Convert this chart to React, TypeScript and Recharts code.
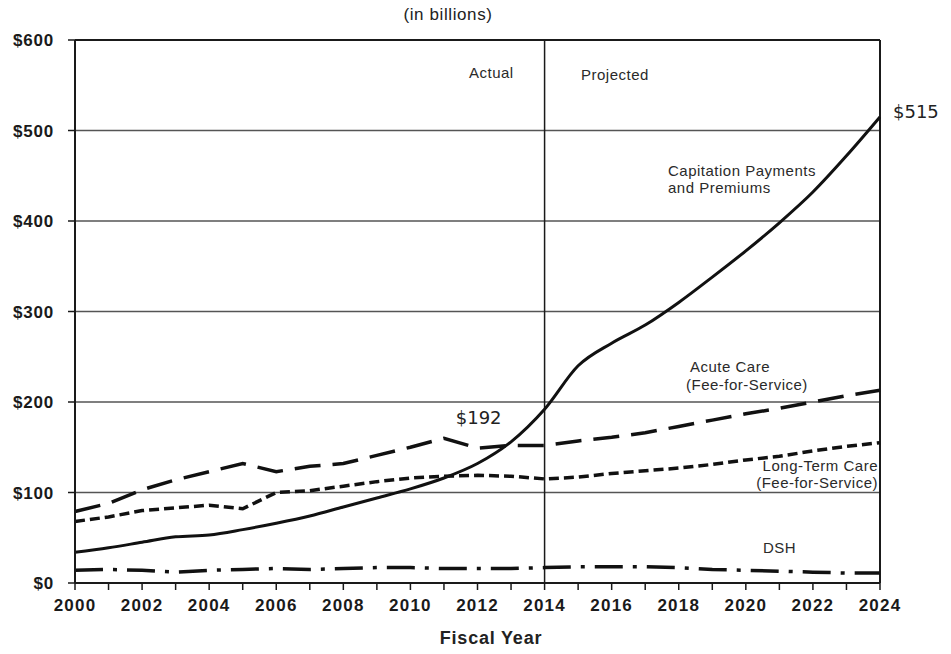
import React from 'react';
import {
  LineChart,
  Line,
  XAxis,
  YAxis,
  CartesianGrid,
  ReferenceLine,
  ReferenceDot,
} from 'recharts';

const years = [
  2000, 2001, 2002, 2003, 2004, 2005, 2006, 2007, 2008, 2009, 2010, 2011, 2012,
  2013, 2014, 2015, 2016, 2017, 2018, 2019, 2020, 2021, 2022, 2023, 2024,
];
const capitation = [
  34, 39, 45, 51, 53, 59, 66, 74, 84, 94, 104, 116, 132, 156, 192, 240, 265,
  285, 310, 338, 367, 398, 432, 472, 515,
];
const acuteCare = [
  79, 88, 103, 114, 123, 132, 123, 129, 132, 141, 150, 160, 149, 152, 152, 157,
  161, 166, 173, 180, 187, 193, 200, 207, 213,
];
const longTermCare = [
  68, 73, 80, 83, 86, 82, 100, 102, 107, 112, 116, 118, 119, 118, 115, 117, 121,
  124, 127, 131, 136, 140, 146, 151, 155,
];
const dsh = [
  14, 15, 14, 12, 14, 15, 16, 15, 16, 17, 17, 16, 16, 16, 17, 18, 18, 18, 17,
  15, 14, 13, 12, 11, 11,
];
const yTicks = [0, 100, 200, 300, 400, 500, 600];
const splitYear = 2014;

const data = years.map((year, i) => ({
  year,
  capitation: capitation[i],
  acuteCare: acuteCare[i],
  longTermCare: longTermCare[i],
  dsh: dsh[i],
}));

const FONT = '"Liberation Sans", Arial, sans-serif';
const INK = '#1a1a1a';

const note = (extra: React.CSSProperties): React.CSSProperties => ({
  position: 'absolute',
  fontFamily: FONT,
  fontSize: 15,
  letterSpacing: 0.5,
  color: '#2a2a2a',
  whiteSpace: 'nowrap',
  lineHeight: '17px',
  ...extra,
});

const valueLabel =
  (dx: number, dy: number, anchor: 'start' | 'end', text: string) =>
  (props: any) => {
    const vb = props.viewBox || {};
    const cx = (vb.x ?? 0) + (vb.width ?? 0) / 2;
    const cy = (vb.y ?? 0) + (vb.height ?? 0) / 2;
    return (
      <text
        x={cx + dx}
        y={cy + dy}
        textAnchor={anchor}
        fontFamily='"DejaVu Sans", sans-serif'
        fontSize={18}
        fill="#222"
      >
        {text}
      </text>
    );
  };

export default function App() {
  return (
    <div style={{ position: 'absolute', left: 0, top: 0, width: 951, height: 654, background: '#fff' }}>
      <LineChart
        width={951}
        height={654}
        data={data}
        margin={{ top: 40, right: 71, bottom: 41, left: 15 }}
      >
        <CartesianGrid horizontal vertical={false} stroke="#555" strokeWidth={1.5} />
        <XAxis
          dataKey="year"
          type="number"
          domain={[2000, 2024]}
          ticks={years}
          interval={0}
          height={30}
          tickSize={7}
          tickMargin={9}
          tickFormatter={(v: number) => (v % 2 === 0 ? String(v) : '')}
          axisLine={{ stroke: INK, strokeWidth: 2 }}
          tickLine={{ stroke: INK, strokeWidth: 1.5 }}
          tick={{ fill: INK, fontFamily: FONT, fontSize: 17, fontWeight: 700, letterSpacing: 1.2 }}
        />
        <YAxis
          domain={[0, 600]}
          ticks={yTicks}
          width={60}
          tickSize={7}
          tickMargin={14}
          tickFormatter={(v: number) => `$${v}`}
          axisLine={{ stroke: INK, strokeWidth: 2 }}
          tickLine={{ stroke: INK, strokeWidth: 1.5 }}
          tick={{ fill: INK, fontFamily: FONT, fontSize: 17, fontWeight: 700, letterSpacing: 0.8 }}
        />
        <ReferenceLine y={600} stroke={INK} strokeWidth={2} />
        <ReferenceLine x={2024} stroke={INK} strokeWidth={2} />
        <ReferenceLine x={splitYear} stroke={INK} strokeWidth={1.5} />

        <Line
          dataKey="dsh"
          type="linear"
          stroke="#111"
          strokeWidth={3.5}
          strokeDasharray="28 10 4 10"
          dot={false}
          isAnimationActive={false}
        />
        <Line
          dataKey="longTermCare"
          type="linear"
          stroke="#111"
          strokeWidth={3.5}
          strokeDasharray="10 5"
          dot={false}
          isAnimationActive={false}
        />
        <Line
          dataKey="acuteCare"
          type="linear"
          stroke="#111"
          strokeWidth={3.5}
          strokeDasharray="26 12"
          dot={false}
          isAnimationActive={false}
        />
        <Line
          dataKey="capitation"
          type="monotone"
          stroke="#111"
          strokeWidth={3}
          dot={false}
          isAnimationActive={false}
        />

        <ReferenceDot
          x={2024}
          y={capitation[capitation.length - 1]}
          r={0}
          stroke="none"
          label={valueLabel(13, 1, 'start', `$${capitation[capitation.length - 1]}`)}
        />
        <ReferenceDot
          x={splitYear}
          y={capitation[years.indexOf(splitYear)]}
          r={0}
          stroke="none"
          label={valueLabel(-43, 15, 'end', `$${capitation[years.indexOf(splitYear)]}`)}
        />
      </LineChart>

      <div style={note({ left: 0, width: 896, top: 6, textAlign: 'center', fontSize: 17, letterSpacing: 0.6, color: '#222' })}>
        (in billions)
      </div>
      <div style={note({ left: 0, width: 982, top: 630, textAlign: 'center', fontSize: 18, fontWeight: 700, color: '#222', letterSpacing: 0.8 })}>
        Fiscal Year
      </div>
      <div style={note({ left: 469, top: 64 })}>Actual</div>
      <div style={note({ left: 581, top: 66 })}>Projected</div>
      <div style={note({ left: 668, top: 162 })}>
        Capitation Payments
        <br />
        and Premiums
      </div>
      <div style={note({ left: 690, top: 358 })}>Acute Care</div>
      <div style={note({ left: 686, top: 376 })}>(Fee-for-Service)</div>
      <div style={note({ right: 951 - 878, top: 457, textAlign: 'right' })}>
        Long-Term Care
        <br />
        (Fee-for-Service)
      </div>
      <div style={note({ left: 763, top: 539 })}>DSH</div>
    </div>
  );
}
